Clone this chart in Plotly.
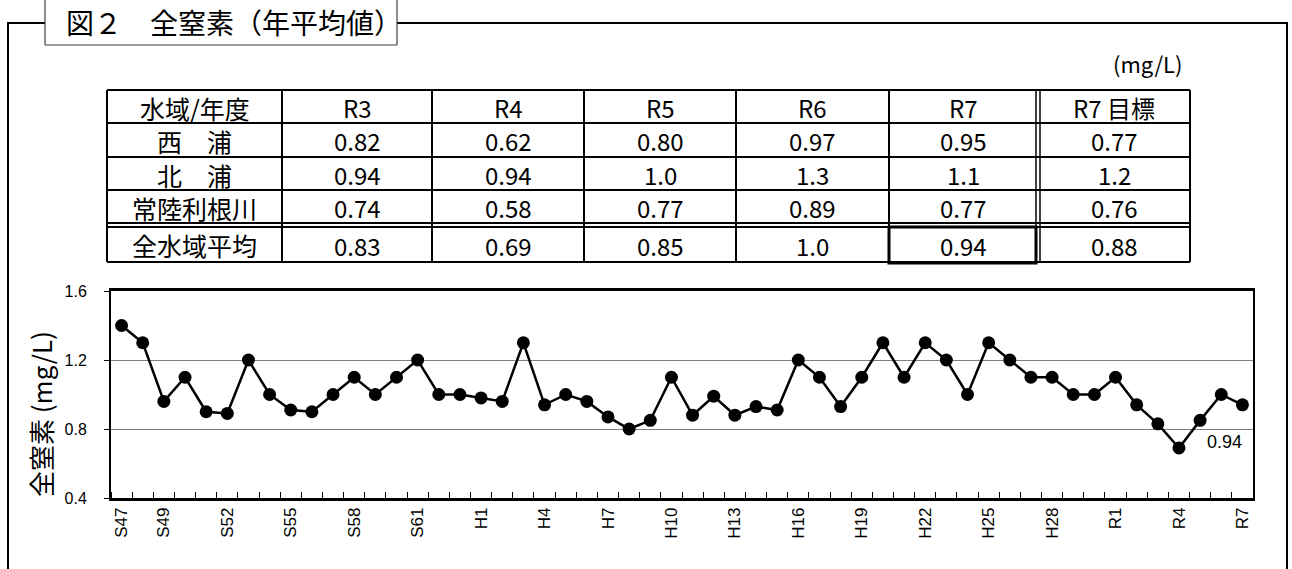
import plotly.graph_objects as go

# ---------------- data ----------------
years = ["S47","S48","S49","S50","S51","S52","S53","S54","S55","S56","S57","S58","S59","S60",
         "S61","S62","S63","H1","H2","H3","H4","H5","H6","H7","H8","H9","H10","H11","H12","H13",
         "H14","H15","H16","H17","H18","H19","H20","H21","H22","H23","H24","H25","H26","H27",
         "H28","H29","H30","R1","R2","R3","R4","R5","R6","R7"]
tn_values = [1.40,1.30,0.96,1.10,0.90,0.89,1.20,1.00,0.91,0.90,1.00,1.10,1.00,1.10,
             1.20,1.00,1.00,0.98,0.96,1.30,0.94,1.00,0.96,0.87,0.80,0.85,1.10,0.88,0.99,0.88,
             0.93,0.91,1.20,1.10,0.93,1.10,1.30,1.10,1.30,1.20,1.00,1.30,1.20,1.10,
             1.10,1.00,1.00,1.10,0.94,0.83,0.69,0.85,1.00,0.94]
tick_labels = ["S47","S49","S52","S55","S58","S61","H1","H4","H7","H10","H13","H16","H19",
               "H22","H25","H28","R1","R4","R7"]
y_ticks = [0.4, 0.8, 1.2, 1.6]

table_header = ["水域/年度", "R3", "R4", "R5", "R6", "R7", "R7 目標"]
table_rows = ["西　浦", "北　浦", "常陸利根川", "全水域平均"]
table_values = [
    ["0.82", "0.62", "0.80", "0.97", "0.95", "0.77"],
    ["0.94", "0.94", "1.0", "1.3", "1.1", "1.2"],
    ["0.74", "0.58", "0.77", "0.89", "0.77", "0.76"],
    ["0.83", "0.69", "0.85", "1.0", "0.94", "0.88"],
]
title_text = "図２　全窒素（年平均値）"
unit_text = "(mg/L)"
ytitle_text = "全窒素 (mg/L)"

# ---------------- geometry ----------------
W, H = 1292, 569
L, R, T, B = 111, 39, 291, 71
PW, PH = W - L - R, H - T - B
JP = "Noto Sans CJK JP"
LAT = "Liberation Sans, Arial, sans-serif"


def px(x):
    return (x - L) / PW


def py(y):
    return (H - B - y) / PH


shapes = []


def hline(x0, x1, y, w=2, color="black"):
    shapes.append(dict(type="line", xref="paper", yref="paper", x0=px(x0), x1=px(x1),
                       y0=py(y), y1=py(y), line=dict(color=color, width=w)))


def vline(x, y0, y1, w=2, color="black"):
    shapes.append(dict(type="line", xref="paper", yref="paper", x0=px(x), x1=px(x),
                       y0=py(y0), y1=py(y1), line=dict(color=color, width=w)))


annotations = []


def text(x, y, s, size, xanchor="center", family=JP, angle=0):
    annotations.append(dict(xref="paper", yref="paper", x=px(x), y=py(y), text=s,
                            showarrow=False, xanchor=xanchor, yanchor="middle",
                            textangle=angle, font=dict(family=family, size=size, color="black")))


# outer frame
hline(8, 45, 23)
hline(397, 1287, 23)
vline(8, 22, 570)
vline(1287, 22, 570)
# title box
vline(45, -2, 45, w=1.2, color="#404040")
vline(397, -2, 45, w=1.2, color="#404040")
hline(45, 397, 45, w=1.2, color="#404040")
text(64, 22, title_text, 28, xanchor="left")
text(1184, 63, unit_text, 22, xanchor="right")

# table
cols = [107, 282, 432, 584, 736, 889, 1038, 1190]
rows = [90, 123, 157, 190, 223, 262]
dbl = 4
for y in rows[:-1]:
    hline(cols[0], cols[-1], y)
hline(cols[0], cols[-1], rows[4] + dbl)
hline(cols[0], cols[-1], rows[-1])
for x in cols[:6] + [cols[-1]]:
    vline(x, rows[0], rows[-1])
vline(cols[6] - 2, rows[0], rows[-1], w=1.5)
vline(cols[6] + 2, rows[0], rows[-1], w=1.5)
shapes.append(dict(type="rect", xref="paper", yref="paper", x0=px(cols[5]), x1=px(cols[6] - 2),
                   y0=py(rows[4] + dbl), y1=py(rows[-1] + 1), line=dict(color="black", width=3)))

row_centers = [(rows[0] + rows[1]) / 2, (rows[1] + rows[2]) / 2, (rows[2] + rows[3]) / 2,
               (rows[3] + rows[4]) / 2, (rows[4] + dbl + rows[5]) / 2]
col_centers = [(cols[i] + cols[i + 1]) / 2 for i in range(len(cols) - 1)]
for j, h in enumerate(table_header):
    text(col_centers[j], row_centers[0] + 1, h, 24 if j else 25)
for i, rname in enumerate(table_rows):
    text(col_centers[0], row_centers[i + 1] + 1, rname, 25)
    for j, v in enumerate(table_values[i]):
        text(col_centers[j + 1], row_centers[i + 1] + 1, v, 24)

# y-axis title
text(40, 414, ytitle_text, 26, angle=-90)

# ---------------- chart ----------------
xs = list(range(len(years)))
fig = go.Figure(go.Scatter(
    x=xs, y=tn_values, mode="lines+markers",
    line=dict(color="black", width=2.5),
    marker=dict(color="black", size=13),
    hoverinfo="skip"))

annotations.append(dict(x=xs[-1], y=tn_values[-1], xref="x", yref="y",
                        text=f"{tn_values[-1]:.2f}", showarrow=False,
                        xanchor="right", yanchor="middle", xshift=2, yshift=-37,
                        font=dict(family=LAT, size=18, color="black")))

fig.update_layout(
    width=W, height=H,
    margin=dict(l=L, r=R, t=T, b=B, pad=0),
    paper_bgcolor="white", plot_bgcolor="white",
    showlegend=False,
    shapes=shapes, annotations=annotations,
    xaxis=dict(range=[-0.5, len(years) - 0.5],
               tickmode="array",
               tickvals=[years.index(t) for t in tick_labels],
               ticktext=tick_labels,
               tickangle=-90,
               ticks="", showgrid=False, zeroline=False,
               showline=True, linecolor="black", linewidth=2.5, mirror=True,
               tickfont=dict(family=LAT, size=17, color="black"),
               minor=dict(tickmode="linear", tick0=0.5, dtick=1, ticks="inside",
                          ticklen=6, tickwidth=1.2, tickcolor="black", showgrid=False)),
    yaxis=dict(range=[0.4, 1.6], tickmode="array", tickvals=y_ticks,
               ticktext=[f"{v:.1f}" for v in y_ticks],
               ticks="outside", ticklen=5, tickwidth=1.2, tickcolor="black",
               ticklabelstandoff=14,
               showgrid=True, gridcolor="#808080", gridwidth=1.2, zeroline=False,
               showline=True, linecolor="black", linewidth=2, mirror=True,
               tickfont=dict(family=LAT, size=16, color="black")),
)

fig.write_html("out.html", config={"displayModeBar": False},
               post_script="document.body.style.margin='0';document.body.style.overflow='hidden';")
